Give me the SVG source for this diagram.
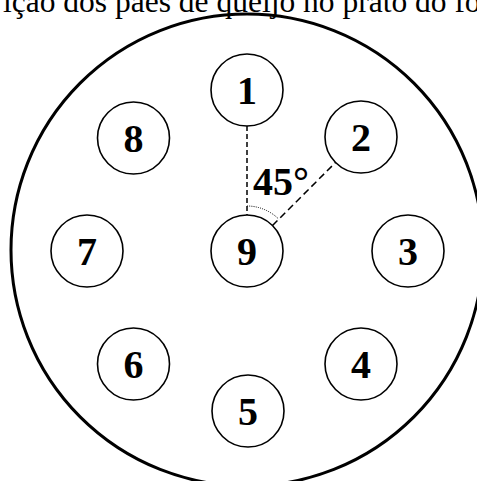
<svg xmlns="http://www.w3.org/2000/svg" width="477" height="481" viewBox="0 0 477 481">
<style>
.bg{fill:#fff}
.plate{fill:none;stroke:#000;stroke-width:3}
.bun{fill:#fff;stroke:#000;stroke-width:1.6}
.num{font-family:"Liberation Serif","Times New Roman",serif;font-weight:bold;font-size:40px;text-anchor:middle;fill:#000}
.title{font-family:"Liberation Serif","Times New Roman",serif;font-size:31.5px;fill:#000}
.dash{fill:none;stroke:#000;stroke-width:1.5}
</style>
<rect class="bg" x="0" y="0" width="477" height="481"/>
<text class="title" x="3" y="12">ição dos pães de queijo no prato do fo</text>
<g id="plate"><circle class="plate" cx="247" cy="250" r="236"/></g>
<g id="connectors">
<line class="dash" x1="247" y1="126" x2="247" y2="215" stroke-dasharray="5,3"/>
<line class="dash" x1="272.5" y1="225.5" x2="335.3" y2="162.7" stroke-dasharray="7,4"/>
<path d="M247,206 A45,45 0 0 1 278.8,219.2" fill="none" stroke="#000" stroke-width="1" stroke-dasharray="1,1.2"/>
<text class="num" x="253" y="195" style="text-anchor:start">45°</text>
</g>
<g id="n1"><circle class="bun" cx="247" cy="90" r="36"/><text class="num" x="247" y="104">1</text></g>
<g id="n2"><circle class="bun" cx="361" cy="137" r="36"/><text class="num" x="361" y="151">2</text></g>
<g id="n3"><circle class="bun" cx="408" cy="251" r="36"/><text class="num" x="408" y="265">3</text></g>
<g id="n4"><circle class="bun" cx="361" cy="364" r="36"/><text class="num" x="361" y="378">4</text></g>
<g id="n5"><circle class="bun" cx="248" cy="411" r="36"/><text class="num" x="248" y="425">5</text></g>
<g id="n6"><circle class="bun" cx="133.5" cy="364" r="36"/><text class="num" x="133.5" y="378">6</text></g>
<g id="n7"><circle class="bun" cx="87" cy="251" r="36"/><text class="num" x="87" y="265">7</text></g>
<g id="n8"><circle class="bun" cx="133.5" cy="138" r="36"/><text class="num" x="133.5" y="152">8</text></g>
<g id="n9"><circle class="bun" cx="247" cy="251" r="36"/><text class="num" x="247" y="265">9</text></g>
</svg>
